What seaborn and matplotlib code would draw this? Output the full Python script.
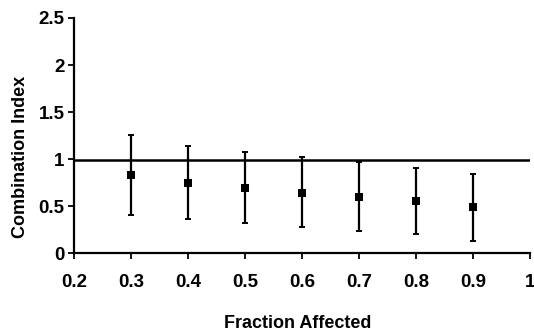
import numpy as np
import pandas as pd
import matplotlib
matplotlib.use("Agg")
import matplotlib.pyplot as plt
import seaborn as sns

# ==============================
# Data
# ==============================
fraction_affected = [0.3, 0.4, 0.5, 0.6, 0.7, 0.8, 0.9]
combination_index = [0.83, 0.75, 0.69, 0.64, 0.60, 0.55, 0.49]
ci_lower = [0.41, 0.36, 0.32, 0.28, 0.24, 0.20, 0.13]
ci_upper = [1.26, 1.14, 1.08, 1.02, 0.97, 0.90, 0.84]
reference_ci = 0.99

x_ticks = [0.2, 0.3, 0.4, 0.5, 0.6, 0.7, 0.8, 0.9, 1.0]
x_tick_labels = ["0.2", "0.3", "0.4", "0.5", "0.6", "0.7", "0.8", "0.9", "1"]
y_ticks = [0, 0.5, 1.0, 1.5, 2.0, 2.5]
y_tick_labels = ["0", "0.5", "1", "1.5", "2", "2.5"]

df = pd.DataFrame({
    "fa": fraction_affected,
    "ci": combination_index,
    "lo": ci_lower,
    "hi": ci_upper,
})

# ==============================
# Style
# ==============================
sns.set_style("ticks")
plt.rcParams["font.family"] = ["Liberation Sans", "DejaVu Sans"]
plt.rcParams["font.weight"] = "bold"

fig = plt.figure(figsize=(5.34, 3.33), dpi=100)
ax = fig.add_axes([0.139, 0.24, 0.854, 0.706])

# reference line
ax.axhline(reference_ci, color="black", linewidth=1.8, zorder=1)

# error bars
ax.errorbar(
    df["fa"],
    df["ci"],
    yerr=[df["ci"] - df["lo"], df["hi"] - df["ci"]],
    fmt="none",
    ecolor="black",
    elinewidth=1.6,
    capsize=2.4,
    capthick=1.4,
    zorder=2,
)

# markers
sns.scatterplot(
    data=df,
    x="fa",
    y="ci",
    marker="s",
    s=34,
    color="black",
    edgecolor="black",
    linewidth=0,
    ax=ax,
    zorder=3,
)

ax.set_xlim(0.2, 1.0)
ax.set_ylim(0, 2.5)
ax.set_xticks(x_ticks)
ax.set_xticklabels(x_tick_labels)
ax.set_yticks(y_ticks)
ax.set_yticklabels(y_tick_labels)

ax.tick_params(axis="both", labelsize=13.5, length=4, width=1.3,
               color="black", labelcolor="black", direction="out")
ax.tick_params(axis="x", pad=11)
ax.tick_params(axis="y", pad=3)

for side in ["top", "right"]:
    ax.spines[side].set_visible(False)
for side in ["left", "bottom"]:
    ax.spines[side].set_linewidth(1.6)
    ax.spines[side].set_color("black")

ax.set_xlabel("Fraction Affected", fontsize=13, fontweight="bold", color="black")
ax.set_ylabel("Combination Index", fontsize=13, fontweight="bold", color="black")
ax.xaxis.set_label_coords(0.489, -0.262)
ax.yaxis.set_label_coords(-0.10, 0.41)

plt.savefig("out.png", dpi=100)
plt.close()
